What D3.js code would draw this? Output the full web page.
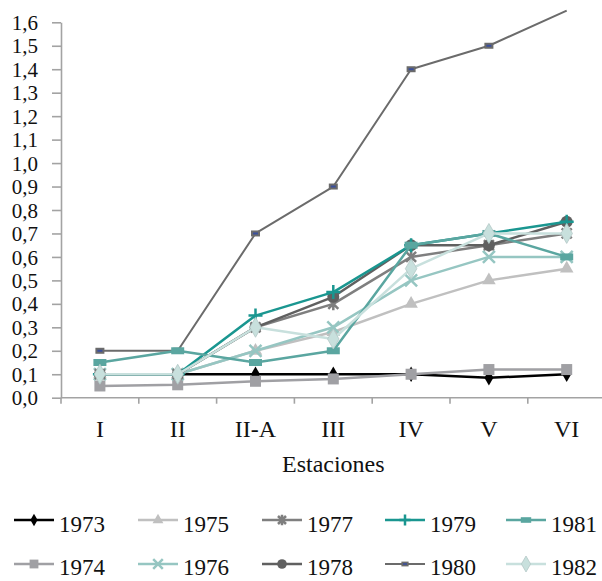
<!DOCTYPE html>
<html>
<head>
<meta charset="utf-8">
<script src="https://cdn.jsdelivr.net/npm/d3@7"></script>
<style>
  html, body { margin: 0; padding: 0; background: #fff; }
  svg { display: block; }
  svg text { font-family: "Liberation Serif", "Times New Roman", serif; }
</style>
</head>
<body>
<svg id="chart" width="602" height="581"></svg>
<script>
// Stations along the x axis
const estaciones = ["I", "II", "II-A", "III", "IV", "V", "VI"];

// Yearly series, one value per station
const years = ["1973", "1974", "1975", "1976", "1977", "1978", "1979", "1980", "1981", "1982"];
const v1973 = [0.10, 0.10, 0.10, 0.10, 0.10, 0.085, 0.10];
const v1974 = [0.05, 0.055, 0.07, 0.08, 0.10, 0.12, 0.12];
const v1975 = [0.10, 0.10, 0.20, 0.28, 0.40, 0.50, 0.55];
const v1976 = [0.10, 0.10, 0.20, 0.30, 0.50, 0.60, 0.60];
const v1977 = [0.10, 0.10, 0.30, 0.40, 0.60, 0.65, 0.70];
const v1978 = [0.10, 0.10, 0.30, 0.43, 0.65, 0.65, 0.75];
const v1979 = [0.10, 0.10, 0.35, 0.45, 0.65, 0.70, 0.75];
const v1980 = [0.20, 0.20, 0.70, 0.90, 1.40, 1.50, 1.65];
const v1981 = [0.15, 0.20, 0.15, 0.20, 0.65, 0.70, 0.60];
const v1982 = [0.10, 0.10, 0.30, 0.25, 0.55, 0.70, 0.70];

// Y axis tick values
const yTicks = [0, 0.1, 0.2, 0.3, 0.4, 0.5, 0.6, 0.7, 0.8, 0.9, 1.0, 1.1, 1.2, 1.3, 1.4, 1.5, 1.6];

const seriesValues = [v1973, v1974, v1975, v1976, v1977, v1978, v1979, v1980, v1981, v1982];

// Per-series appearance
const styles = {
  "1973": { color: "#000000", marker: "diamond", lw: 2.5 },
  "1974": { color: "#a0a0a4", marker: "square", lw: 2.5 },
  "1975": { color: "#c0c0c0", marker: "triangle", lw: 2.5 },
  "1976": { color: "#96c6c2", marker: "x", lw: 2.5 },
  "1977": { color: "#7f7f7f", marker: "asterisk", lw: 2.5 },
  "1978": { color: "#606060", marker: "circle", lw: 2.5 },
  "1979": { color: "#1a9690", marker: "plus", lw: 2.5 },
  "1980": { color: "#6b6b6b", marker: "smallrect", lw: 2 },
  "1981": { color: "#5aa6a0", marker: "dash", lw: 2.5 },
  "1982": { color: "#c8e0dd", marker: "diamondBig", lw: 2.5 }
};

const series = years.map((y, i) => ({ year: y, values: seriesValues[i] }));

const svg = d3.select("#chart");
const axisColor = "#a3a3a3";
const serif = "'Liberation Serif', 'Times New Roman', serif";

const x = d3.scaleBand().domain(estaciones).range([61, 605.6]).padding(0);
const y = d3.scaleLinear().domain([0, 1.6]).range([397.7, 22.3]);
const cx = c => x(c) + x.bandwidth() / 2;

// Y axis
const yAxis = d3.axisLeft(y)
  .tickValues(yTicks)
  .tickSize(9)
  .tickSizeOuter(0)
  .tickPadding(14)
  .tickFormat(d => d.toFixed(1).replace(".", ","));

const gy = svg.append("g").attr("transform", "translate(61,0)").call(yAxis)
  .attr("font-family", serif).attr("font-size", 21);
gy.select(".domain").attr("stroke", axisColor).attr("stroke-width", 1.6);
gy.selectAll(".tick line").attr("stroke", axisColor).attr("stroke-width", 1.6);
gy.selectAll(".tick text")
  .attr("fill", "#111")
  .attr("dy", "0.34em");

// X axis: line, ticks at category boundaries, labels at centres
const gx = svg.append("g").attr("font-family", serif);
gx.append("line")
  .attr("x1", x.range()[0]).attr("x2", x.range()[1])
  .attr("y1", y(0)).attr("y2", y(0))
  .attr("stroke", axisColor).attr("stroke-width", 1.6);
gx.selectAll("line.tk")
  .data(estaciones)
  .join("line")
  .attr("class", "tk")
  .attr("x1", d => x(d)).attr("x2", d => x(d))
  .attr("y1", y(0)).attr("y2", y(0) + 6)
  .attr("stroke", axisColor).attr("stroke-width", 1.6);
gx.selectAll("text")
  .data(estaciones)
  .join("text")
  .attr("x", d => cx(d))
  .attr("y", 437)
  .attr("text-anchor", "middle")
  .attr("fill", "#111")
  .attr("font-size", 24)
  .text(d => d);

svg.append("text")
  .attr("x", (x.range()[0] + x.range()[1]) / 2)
  .attr("y", 472)
  .attr("text-anchor", "middle")
  .attr("fill", "#111")
  .attr("font-family", serif)
  .attr("font-size", 24)
  .text("Estaciones");

// Marker drawing
function drawMarker(g, type, color, s) {
  s = s || 1;
  switch (type) {
    case "diamond":
      g.append("path").attr("d", d3.symbol(d3.symbolDiamond, 70 * s * s)()).attr("fill", color);
      break;
    case "diamondBig":
      g.append("path").attr("d", d3.symbol(d3.symbolDiamond, 115 * s * s)())
        .attr("fill", color).attr("stroke", "#b4c8c6").attr("stroke-width", 0.8);
      break;
    case "square":
      g.append("rect").attr("x", -5.5 * s).attr("y", -5.5 * s)
        .attr("width", 11 * s).attr("height", 11 * s).attr("fill", color);
      break;
    case "triangle":
      g.append("path").attr("d", d3.symbol(d3.symbolTriangle, 80 * s * s)()).attr("fill", color);
      break;
    case "x": {
      const r = 6 * s;
      g.append("path").attr("d", `M${-r},${-r}L${r},${r}M${-r},${r}L${r},${-r}`)
        .attr("stroke", color).attr("stroke-width", 2.5).attr("fill", "none");
      break;
    }
    case "asterisk": {
      const r = 5 * s;
      g.append("path").attr("d", `M${-r},${-r}L${r},${r}M${-r},${r}L${r},${-r}M0,${-r * 1.3}L0,${r * 1.3}`)
        .attr("stroke", color).attr("stroke-width", 2.5).attr("fill", "none");
      break;
    }
    case "circle":
      g.append("circle").attr("r", 6 * s).attr("fill", color);
      break;
    case "plus": {
      const r = 7 * s;
      g.append("path").attr("d", `M${-r},0L${r},0M0,${-r}L0,${r}`)
        .attr("stroke", color).attr("stroke-width", 2.5).attr("fill", "none");
      break;
    }
    case "dash":
      g.append("rect").attr("x", -6.5 * s).attr("y", -3.5 * s)
        .attr("width", 13 * s).attr("height", 7 * s).attr("fill", color);
      break;
    case "smallrect":
      g.append("rect").attr("x", -4.5 * s).attr("y", -3 * s)
        .attr("width", 9 * s).attr("height", 6 * s).attr("fill", color);
      g.append("rect").attr("x", -2.5 * s).attr("y", -1 * s)
        .attr("width", 5 * s).attr("height", 2 * s).attr("fill", "#3a4f9c");
      break;
  }
}

// Series lines and markers
const line = d3.line()
  .x((d, i) => cx(estaciones[i]))
  .y(d => y(d));

const plot = svg.append("g");
series.forEach(sr => {
  const st = styles[sr.year];
  const g = plot.append("g");
  g.append("path")
    .attr("d", line(sr.values))
    .attr("fill", "none")
    .attr("stroke", st.color)
    .attr("stroke-width", st.lw)
    .attr("stroke-linejoin", "round");
  sr.values.forEach((v, i) => {
    if (v > y.domain()[1]) return; // markers beyond the axis top are not drawn
    const m = g.append("g").attr("transform", `translate(${cx(estaciones[i])},${y(v)})`);
    drawMarker(m, st.marker, st.color, 1);
  });
});

// Legend: two rows, five columns
const legendCols = [14, 138, 262, 385, 506];
const legendRows = [{ line: 520, text: 532 }, { line: 564, text: 575 }];
const legendOrder = [
  ["1973", "1975", "1977", "1979", "1981"],
  ["1974", "1976", "1978", "1980", "1982"]
];
legendOrder.forEach((row, ri) => {
  row.forEach((yr, ci) => {
    const st = styles[yr];
    const x0 = legendCols[ci];
    const ly = legendRows[ri].line;
    const g = svg.append("g");
    g.append("line")
      .attr("x1", x0).attr("x2", x0 + 40)
      .attr("y1", ly).attr("y2", ly)
      .attr("stroke", st.color).attr("stroke-width", st.lw);
    const m = g.append("g").attr("transform", `translate(${x0 + 20},${ly})`);
    drawMarker(m, st.marker, st.color, 0.8);
    g.append("text")
      .attr("x", x0 + 45)
      .attr("y", legendRows[ri].text)
      .attr("fill", "#111")
      .attr("font-family", serif)
      .attr("font-size", 23)
      .text(yr);
  });
});
</script>
</body>
</html>
